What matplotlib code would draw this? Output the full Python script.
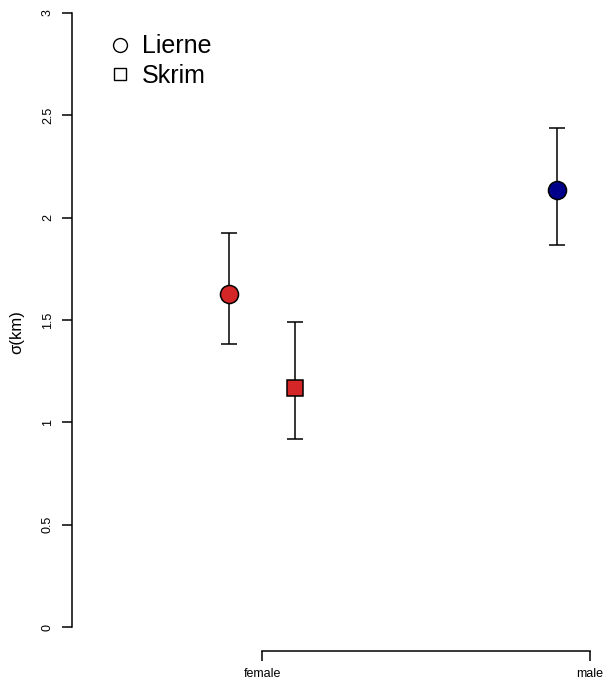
import numpy as np
import matplotlib
matplotlib.use("Agg")
import matplotlib.pyplot as plt
from matplotlib.lines import Line2D

plt.rcParams["font.family"] = ["Liberation Sans", "DejaVu Sans"]

# data
sex = ["female", "male"]
sex_pos = [1, 2]
site = ["Lierne", "Skrim", "Lierne"]
site_x = [1, 1, 2]
offset = [-0.1, 0.1, -0.1]
sigma = [1.627, 1.168, 2.133]
lower = [1.383, 0.918, 1.868]
upper = [1.925, 1.490, 2.438]
colours = ["#D42626", "#D42626", "#00008B"]
shapes = {"Lierne": "o", "Skrim": "s"}
msizes = {"Lierne": 13, "Skrim": 11}

W, H = 603, 682
fig = plt.figure(figsize=(W / 100, H / 100), dpi=100)
# axes box in pixels: left 72, right 603, top 13, bottom 651
ax = fig.add_axes([72 / W, 1 - 651 / H, (603 - 72) / W, (651 - 13) / H])

for i in range(len(sigma)):
    x = site_x[i] + offset[i]
    ax.errorbar(x, sigma[i],
                yerr=[[sigma[i] - lower[i]], [upper[i] - sigma[i]]],
                fmt="none", ecolor="black", elinewidth=1.1,
                capsize=6, capthick=1.1, zorder=1)
    ax.plot(x, sigma[i], marker=shapes[site[i]], ms=msizes[site[i]],
            mfc=colours[i], mec="black", mew=1.1, ls="none", zorder=2)

ax.set_xlim(1 - 190 / 328, 1 + 341 / 328)
ax.set_ylim(-24 / 204.7, 3.0)

for s in ["top", "right"]:
    ax.spines[s].set_visible(False)
ax.spines["left"].set_bounds(0, 3)
ax.spines["bottom"].set_bounds(1, 2)
ax.spines["left"].set_linewidth(1.1)
ax.spines["bottom"].set_linewidth(1.1)

ax.set_yticks([0, 0.5, 1, 1.5, 2, 2.5, 3])
ax.set_yticklabels(["0", "0.5", "1", "1.5", "2", "2.5", "3"],
                   rotation=90, va="center", fontsize=9)
ax.set_xticks(sex_pos)
ax.set_xticklabels(sex, fontsize=9)
ax.tick_params(axis="y", length=7, width=1.1, pad=6)
ax.tick_params(axis="x", length=7, width=1.1, pad=5)

ax.set_ylabel(u"\u03c3(km)", fontsize=12, labelpad=13)

handles = [Line2D([], [], marker=shapes[k], ms=10 if k == "Lierne" else 9,
                  mfc="white", mec="black", mew=1.0, ls="none")
           for k in ["Lierne", "Skrim"]]
ax.legend(handles, ["Lierne", "Skrim"], loc="upper left",
          bbox_to_anchor=(0.038, 0.982), frameon=False, fontsize=18,
          handlelength=1.4, handletextpad=0.2, labelspacing=0.22,
          borderaxespad=0)

fig.savefig("out.png", dpi=100)
